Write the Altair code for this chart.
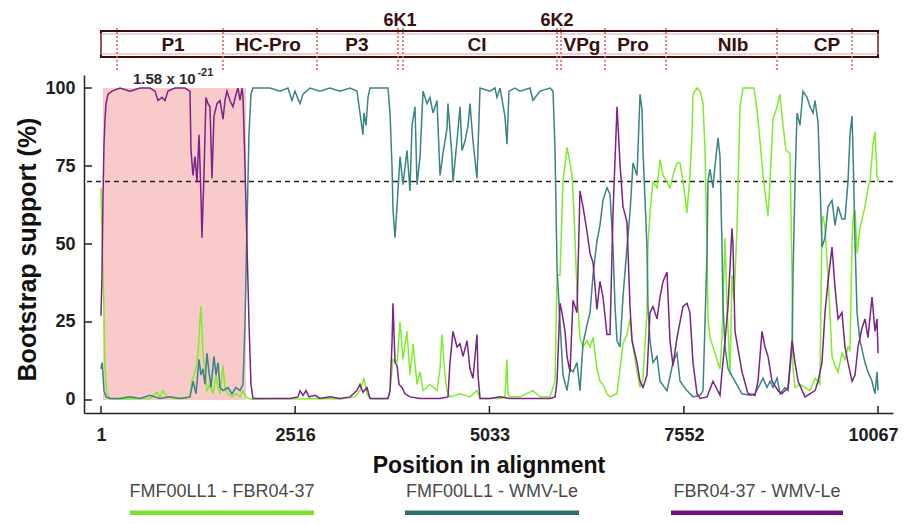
import altair as alt
import pandas as pd

SERIES = ["FMF00LL1 - FBR04-37", "FMF00LL1 - WMV-Le", "FBR04-37 - WMV-Le"]
LINE_COLORS = ["#80ec2c", "#3a8485", "#7a2388"]
LEGEND_COLORS = ["#7be22a", "#2e6e6e", "#6f1480"]

green_pos = [1, 14, 27, 40, 53, 79, 118, 247, 506, 636, 726, 765, 804, 856, 960, 1089, 1154, 1180, 1232, 1258,
             1283, 1297, 1322, 1348, 1374, 1413, 1452, 1491, 1517, 1543, 1582, 1607, 1646, 1698, 1750, 1802, 1841,
             1880, 1931, 2061, 2320, 2579, 2838, 3097, 3291, 3356, 3408, 3447, 3486, 3615, 3719, 3745, 3784, 3836,
             3875, 3913, 3965, 4004, 4043, 4095, 4134, 4173, 4263, 4354, 4393, 4418, 4457, 4483, 4522, 4652, 4781,
             4872, 4911, 5170, 5234, 5260, 5273, 5299, 5429, 5597, 5688, 5818, 5883, 5909, 5947, 5973, 5986, 6038,
             6077, 6103, 6128, 6141, 6167, 6206, 6245, 6297, 6336, 6375, 6426, 6465, 6504, 6556, 6595, 6686, 6724,
             6763, 6815, 6854, 6893, 6945, 6984, 7022, 7074, 7087, 7113, 7152, 7204, 7243, 7282, 7333, 7372, 7411,
             7463, 7502, 7541, 7592, 7631, 7657, 7670, 7722, 7761, 7800, 7826, 7852, 7864, 7890, 7929, 7981, 8020,
             8046, 8085, 8111, 8150, 8175, 8201, 8240, 8279, 8318, 8409, 8460, 8499, 8538, 8577, 8616, 8642, 8668,
             8707, 8759, 8797, 8836, 8875, 8927, 8953, 8966, 8992, 9056, 9121, 9186, 9251, 9315, 9341, 9354, 9380,
             9419, 9471, 9510, 9549, 9600, 9639, 9678, 9704, 9730, 9743, 9769, 9795, 9833, 9898, 9937, 9963, 10002,
             10028, 10054, 10067]
green_val = [68, 55, 40, 28, 10, 2, 0.5, 0.3, 0.5, 0.5, 2.5, 1, 3, 1, 0.5, 0.5, 1, 6, 10, 15,
             25, 30, 15, 10, 3, 5, 2, 8, 4, 2, 11, 4, 2, 1, 2, 1, 3,
             1, 0.3, 0.3, 0.5, 0.3, 0.5, 0.3, 1, 3, 7, 2, 0.5, 0.3, 0.5, 3, 13, 12,
             25, 13, 22, 8, 18, 5, 9, 3, 5, 3, 10, 21, 8, 3, 1, 2, 1,
             3, 0.5, 0.5, 1, 13, 2, 1, 1, 3, 1, 1, 6, 40, 40, 60, 70, 81,
             76, 72, 60, 52, 35, 20, 17, 19, 17, 20, 10, 6, 5, 2, 1, 2, 10,
             18, 21, 26, 17, 9, 4, 7, 28, 50, 60, 70, 68, 77, 72, 70, 68, 72,
             76, 76, 70, 60, 72, 85, 98, 100, 99, 95, 80, 49, 26, 20, 17, 13, 10,
             20, 52, 30, 8, 40, 32, 55, 94, 100, 100, 100, 93, 83, 72, 64, 59, 70,
             90, 94, 98, 88, 80, 79, 40, 10, 4, 5, 4, 3, 7, 5, 58, 59, 55,
             40, 14, 11, 9, 15, 13, 17, 16, 50, 58, 61, 47, 55, 62, 68, 70, 82,
             86, 72, 70]

teal_pos = [1, 14, 27, 40, 66, 118, 247, 377, 506, 636, 765, 895, 1024, 1154, 1193, 1232, 1271, 1297, 1322, 1348,
            1374, 1400, 1426, 1465, 1491, 1517, 1543, 1582, 1646, 1698, 1750, 1802, 1841, 1867, 1892, 1918, 1944,
            1970, 2061, 2190, 2320, 2423, 2475, 2514, 2579, 2618, 2709, 2838, 2968, 3097, 3227, 3317, 3356, 3395,
            3408, 3434, 3460, 3486, 3615, 3719, 3745, 3771, 3784, 3810, 3836, 3875, 3913, 3965, 4004, 4030, 4069,
            4095, 4134, 4173, 4224, 4263, 4302, 4354, 4393, 4431, 4483, 4496, 4548, 4561, 4613, 4652, 4678, 4717,
            4756, 4781, 4820, 4872, 4898, 4911, 5040, 5105, 5131, 5170, 5234, 5260, 5286, 5364, 5429, 5559, 5597,
            5688, 5818, 5857, 5883, 5909, 5947, 5986, 6038, 6077, 6116, 6167, 6206, 6245, 6297, 6336, 6375, 6426,
            6465, 6504, 6556, 6595, 6634, 6660, 6686, 6724, 6763, 6815, 6854, 6893, 6945, 6984, 7010, 7022, 7074,
            7087, 7113, 7152, 7204, 7243, 7333, 7411, 7463, 7502, 7592, 7670, 7761, 7800, 7852, 7864, 7890, 7929,
            7955, 7994, 8020, 8046, 8059, 8085, 8124, 8214, 8305, 8409, 8473, 8538, 8577, 8629, 8668, 8707, 8759,
            8797, 8862, 8901, 8953, 8966, 8992, 9018, 9056, 9095, 9147, 9186, 9225, 9251, 9290, 9315, 9341, 9380,
            9419, 9471, 9510, 9549, 9600, 9639, 9678, 9704, 9730, 9743, 9769, 9795, 9833, 9898, 9937, 9989, 10028,
            10054, 10067]
teal_val = [10, 12, 8, 3, 1, 0.5, 0.5, 1, 0.5, 1.5, 0.5, 1, 0.5, 1, 6, 2, 13, 8, 10, 5,
            15, 9, 4, 14, 8, 12, 4, 3, 4, 2, 4, 3, 5, 25, 55, 85, 98,
            100, 100, 100, 99, 100, 96, 99, 95, 98, 100, 99, 100, 99, 100, 99, 92, 85,
            92, 88, 97, 100, 100, 100, 92, 75, 61, 52, 62, 78, 69, 80, 67, 88, 94,
            69, 78, 99, 95, 97, 92, 96, 72, 79, 87, 95, 78, 70, 83, 94, 80, 83,
            88, 95, 83, 71, 90, 100, 99, 100, 97, 100, 91, 82, 99, 100, 99, 100, 96,
            99, 100, 99, 80, 42, 25, 8, 3, 10, 9, 12, 3, 18, 24, 28, 40, 51,
            56, 64, 68, 66, 49, 30, 19, 17, 33, 49, 60, 76, 72, 98, 93, 80, 49,
            30, 19, 12, 14, 6, 3, 12, 15, 6, 3, 1, 1.5, 3, 47, 70, 74, 68,
            75, 84, 78, 49, 30, 17, 10, 6, 2, 1.5, 2, 5, 7, 4, 6, 4, 7,
            2, 4, 3, 17, 40, 70, 92, 88, 99, 97, 94, 92, 96, 89, 70, 49, 52,
            62, 64, 56, 62, 58, 58, 70, 85, 91, 80, 51, 28, 19, 12, 9, 6, 2,
            9, 3]

purple_pos = [1, 14, 27, 40, 53, 66, 92, 144, 247, 377, 506, 636, 701, 739, 791, 830, 869, 960, 1089, 1154,
              1167, 1193, 1219, 1245, 1271, 1297, 1309, 1322, 1335, 1361, 1387, 1413, 1439, 1465, 1504, 1543, 1582,
              1607, 1633, 1672, 1711, 1750, 1776, 1802, 1828, 1841, 1867, 1892, 1918, 1944, 1970, 2061, 2190, 2320,
              2449, 2553, 2579, 2618, 2657, 2696, 2773, 2838, 2968, 3097, 3227, 3317, 3356, 3395, 3447, 3486, 3615,
              3719, 3745, 3771, 3784, 3810, 3836, 3862, 3900, 3939, 4004, 4134, 4263, 4393, 4496, 4522, 4561, 4613,
              4652, 4691, 4743, 4781, 4820, 4872, 4885, 4911, 5040, 5170, 5299, 5429, 5559, 5688, 5818, 5883, 5909,
              5947, 5973, 6012, 6038, 6077, 6116, 6167, 6206, 6245, 6297, 6336, 6375, 6426, 6465, 6504, 6556, 6595,
              6634, 6686, 6724, 6763, 6815, 6854, 6880, 6945, 6984, 7022, 7074, 7113, 7152, 7204, 7243, 7282, 7333,
              7372, 7411, 7463, 7541, 7592, 7631, 7670, 7722, 7761, 7852, 7929, 8020, 8046, 8085, 8124, 8175, 8188,
              8214, 8305, 8383, 8473, 8512, 8564, 8603, 8642, 8694, 8772, 8823, 8901, 8953, 8992, 9031, 9121, 9251,
              9290, 9341, 9380, 9419, 9471, 9510, 9549, 9600, 9639, 9678, 9730, 9769, 9808, 9859, 9898, 9937, 9989,
              10028, 10054, 10067]
purple_val = [27, 40, 65, 82, 90, 95, 98, 99, 100, 99, 100, 100, 99, 96, 97, 96, 99, 100, 100, 99,
              80, 72, 78, 70, 85, 65, 52, 62, 72, 97, 95, 94, 71, 91, 95, 96, 90,
              96, 99, 96, 94, 98, 100, 96, 100, 97, 75, 50, 25, 5, 0.5, 0.5, 0.5, 0.5,
              0.5, 1, 3, 1.5, 3, 1, 1.5, 0.5, 1, 0.5, 1, 3, 5, 2.5, 4, 0.5, 0.5,
              0.5, 3, 18, 31, 12, 11, 5, 4, 2, 1, 0.5, 0.5, 0.5, 1, 12, 22, 17,
              18, 14, 19, 10, 7, 21, 8, 0.5, 0.5, 1, 0.5, 0.5, 0.5, 0.5, 0.5, 1, 6,
              31, 28, 22, 14, 9, 32, 28, 67, 62, 54, 47, 44, 29, 38, 33, 21, 21,
              60, 94, 76, 62, 57, 30, 19, 12, 6, 4, 8, 28, 30, 26, 33, 38, 41,
              19, 11, 20, 30, 31, 28, 12, 2, 0.5, 1, 6, 1.5, 9, 19, 30, 55, 50,
              22, 9, 2, 1.5, 6, 22, 17, 14, 6, 3, 2, 4, 19, 12, 6, 1, 3,
              6, 12, 28, 38, 49, 36, 26, 28, 17, 12, 6, 8, 17, 23, 26, 20, 33,
              22, 26, 15]

# genome map (positions in alignment)
genome_start = [1]
genome_end = [10067]
gene_names = ["P1", "HC-Pro", "P3", "6K1", "CI", "6K2", "VPg", "Pro", "NIb", "CP"]
gene_label_pos = [934, 2165, 3317, 3875, 4872, 5909, 6232, 6893, 8189, 9406]
gene_raised = [0, 0, 0, 1, 0, 1, 0, 0, 0, 0]
gene_bounds = [208, 1581, 2799, 3849, 3913, 5909, 5960, 6530, 7321, 8759, 9730]

# recombination region
region_start = [27]
region_end = [1880]
threshold = [70]

x_ticks = [1, 2516, 5033, 7552, 10067]
y_ticks = [0, 25, 50, 75, 100]

ann_text = ["1.58 x 10", "-21"]
ann_pos = [416, 1250]
ann_val = [102.9, 104.9]

W, H = 809, 338
FONT = "Liberation Sans"
MAROON = "#3a0e0e"

xs = alt.Scale(domain=[-219, 10261], nice=False, zero=False)
ys = alt.Scale(domain=[-4.17, 104.17], nice=False, zero=False)

rows = []
for name, P, V in [(SERIES[0], green_pos, green_val), (SERIES[1], teal_pos, teal_val),
                   (SERIES[2], purple_pos, purple_val)]:
    for p, v in zip(P, V):
        rows.append({"pos": p, "val": v, "series": name})
df = pd.DataFrame(rows)

XA = alt.Axis(values=x_ticks, format="d", title="Position in alignment", ticks=False, tickSize=0, grid=False,
              labelFont=FONT, labelFontWeight="bold", labelFontSize=18, labelColor="#1e1e1e",
              labelPadding=13, labelFlush=False,
              labelOffset=alt.expr("datum.value == 10067 ? -5 : 0"),
              domainColor="#222", domainWidth=1.5,
              titleFont=FONT, titleFontSize=23, titleFontWeight="bold", titleColor="#111",
              titleX=W / 2, titleY=52, titleBaseline="middle")
YA = alt.Axis(values=y_ticks, format="d", title="Bootstrap support (%)", ticks=False, tickSize=0, grid=False,
              labelFont=FONT, labelFontWeight="bold", labelFontSize=18, labelColor="#1e1e1e",
              labelPadding=9, domainColor="#222", domainWidth=1.5,
              titleFont=FONT, titleFontSize=25, titleFontWeight="bold", titleColor="#111",
              titleX=-57, titleY=174, titleBaseline="middle")


def X(f):
    return alt.X(f, scale=xs, axis=XA)


def Y(f):
    return alt.Y(f, scale=ys, axis=YA)


shade = alt.Chart(pd.DataFrame({"s": region_start, "e": region_end, "lo": [0], "hi": [100]})).mark_rect(
    color="#f9caca").encode(x=X("s:Q"), x2="e:Q", y=Y("lo:Q"), y2="hi:Q")

dash = alt.Chart(pd.DataFrame({"t": threshold})).mark_rule(
    color="#222", strokeDash=[5, 4], strokeWidth=1.5).encode(y=Y("t:Q"))

lines = alt.Chart(df).mark_line(strokeWidth=1.5).encode(
    x=X("pos:Q"), y=Y("val:Q"),
    color=alt.Color("series:N", scale=alt.Scale(domain=SERIES, range=LINE_COLORS), legend=None),
    order="pos:Q")

yt = alt.Chart(pd.DataFrame({"v": y_ticks})).mark_rule(color="#222", strokeWidth=1.5).encode(
    y=Y("v:Q"), x=alt.value(0), x2=alt.value(8))
xt = alt.Chart(pd.DataFrame({"v": x_ticks})).mark_rule(color="#222", strokeWidth=1.5).encode(
    x=X("v:Q"), y=alt.value(H), y2=alt.value(H - 7))

box = alt.Chart(pd.DataFrame({"s": genome_start, "e": genome_end})).mark_rect(
    fill="white", stroke=MAROON, strokeWidth=2).encode(
    x=X("s:Q"), x2="e:Q", y=alt.value(-44), y2=alt.value(-18))
box_inner = alt.Chart(pd.DataFrame({"s": genome_start, "e": genome_end})).mark_rect(
    fill=None, stroke="#e9a3a3", strokeWidth=1).encode(
    x=X("s:Q"), x2="e:Q", y=alt.value(-41), y2=alt.value(-21))

bounds = alt.Chart(pd.DataFrame({"b": gene_bounds})).mark_rule(
    color="#e25b5b", strokeDash=[2, 2], strokeWidth=1.5).encode(
    x=X("b:Q"), y=alt.value(-47), y2=alt.value(-5))

gdf = pd.DataFrame({"name": gene_names, "p": gene_label_pos, "raised": gene_raised})
glab = alt.Chart(gdf).transform_filter("datum.raised == 0").mark_text(
    font=FONT, fontWeight="bold", fontSize=19, color=MAROON, baseline="middle").encode(
    x=X("p:Q"), y=alt.value(-30), text="name:N")
glab2 = alt.Chart(gdf).transform_filter("datum.raised == 1").mark_text(
    font=FONT, fontWeight="bold", fontSize=18, color=MAROON, baseline="middle").encode(
    x=X("p:Q"), y=alt.value(-54), text="name:N")

adf = pd.DataFrame({"t": ann_text, "p": ann_pos, "v": ann_val, "k": [0, 1]})
ann1 = alt.Chart(adf).transform_filter("datum.k == 0").mark_text(
    font=FONT, fontWeight="bold", fontSize=15, color="#2a2a2a", align="left", baseline="middle").encode(
    x=X("p:Q"), y=Y("v:Q"), text="t:N")
ann2 = alt.Chart(adf).transform_filter("datum.k == 1").mark_text(
    font=FONT, fontWeight="bold", fontSize=11, color="#2a2a2a", align="left", baseline="middle").encode(
    x=X("p:Q"), y=Y("v:Q"), text="t:N")

leg_centers = [138, 408, 673]
leg_half = [92, 87, 86]
legend_layers = []
for i, name in enumerate(SERIES):
    ldf = pd.DataFrame({"name": [name]})
    legend_layers.append(alt.Chart(ldf).mark_text(
        font=FONT, fontSize=18, color="#4a4a4a", baseline="middle").encode(
        x=alt.value(leg_centers[i]), y=alt.value(417), text="name:N"))
    legend_layers.append(alt.Chart(ldf).mark_rule(color=LEGEND_COLORS[i], strokeWidth=5).encode(
        x=alt.value(leg_centers[i] - leg_half[i]), x2=alt.value(leg_centers[i] + leg_half[i]),
        y=alt.value(438)))

chart = alt.layer(shade, dash, lines, yt, xt, box, box_inner, bounds, glab, glab2, ann1, ann2,
                  *legend_layers).properties(
    width=W, height=H,
    autosize=alt.AutoSizeParams(type="none"),
    padding={"left": 76, "top": 67, "right": 6, "bottom": 102},
).configure_view(stroke=None)

chart.save("out.html", embed_options={"renderer": "svg", "actions": False})
